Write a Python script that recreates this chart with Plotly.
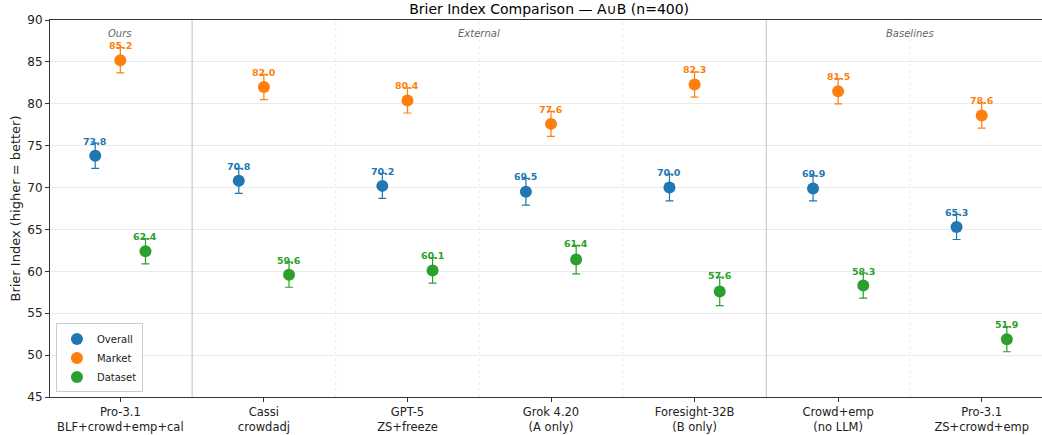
import plotly.graph_objects as go

# ===================== Data =========================
models = ["Pro-3.1<br>BLF+crowd+emp+cal", "Cassi<br>crowdadj", "GPT-5<br>ZS+freeze",
          "Grok 4.20<br>(A only)", "Foresight-32B<br>(B only)", "Crowd+emp<br>(no LLM)",
          "Pro-3.1<br>ZS+crowd+emp"]

overall = [73.8, 70.8, 70.2, 69.5, 70.0, 69.9, 65.3]
overall_err = [1.5, 1.5, 1.5, 1.6, 1.6, 1.5, 1.5]
market = [85.2, 82.0, 80.4, 77.6, 82.3, 81.5, 78.6]
market_err = [1.5, 1.5, 1.5, 1.5, 1.5, 1.5, 1.5]
dataset = [62.4, 59.6, 60.1, 61.4, 57.6, 58.3, 51.9]
dataset_err = [1.5, 1.5, 1.5, 1.7, 1.7, 1.5, 1.5]

groups = ["Ours", "External", "Baselines"]
group_centers = [0, 2.5, 5.5]

series = [
    ("Overall", overall, overall_err, "#1f77b4", -0.175),
    ("Market", market, market_err, "#ff7f0e", 0.0),
    ("Dataset", dataset, dataset_err, "#2ca02c", 0.175),
]

FONT = "DejaVu Sans"

# ===================== Figure =========================
fig = go.Figure()

for name, vals, errs, color, off in series:
    xs = [i + off for i in range(len(vals))]
    fig.add_trace(go.Scatter(
        x=xs, y=vals, mode="markers", name=name,
        marker=dict(color=color, size=12),
        error_y=dict(type="data", array=errs, color=color, thickness=1.2, width=4),
    ))
    for x, v, e in zip(xs, vals, errs):
        fig.add_annotation(
            x=x, y=v + e, text=f"<b>{v:.1f}</b>", showarrow=False,
            yanchor="middle", yshift=2,
            font=dict(family=FONT, size=9.5, color=color),
        )

# separators between groups
shapes = []
for b in [0.5, 4.5]:
    shapes.append(dict(type="line", xref="x", yref="paper", x0=b, x1=b, y0=0, y1=1,
                       line=dict(color="rgba(0,0,0,0.2)", width=1.2), layer="below"))
for b in [1.5, 2.5, 3.5, 5.5]:
    shapes.append(dict(type="line", xref="x", yref="paper", x0=b, x1=b, y0=0, y1=1,
                       line=dict(color="rgba(0,0,0,0.08)", width=1, dash="dot"), layer="below"))

for g, c in zip(groups, group_centers):
    fig.add_annotation(x=c, y=88.4, text=f"<i>{g}</i>", showarrow=False,
                       font=dict(family=FONT, size=10, color="#666666"))

fig.update_layout(
    width=1042, height=435,
    margin=dict(l=50, r=0, t=20, b=38, autoexpand=False),
    paper_bgcolor="white", plot_bgcolor="white",
    font=dict(family=FONT, size=12, color="#222222"),
    title=dict(text="Brier Index Comparison — A∪B (n=400)", x=0.527, xanchor="center",
               y=0.98, yanchor="middle", font=dict(size=14, color="#000000")),
    shapes=shapes,
    showlegend=True,
    legend=dict(x=0.006, y=0.012, xanchor="left", yanchor="bottom",
                bgcolor="rgba(255,255,255,0.8)", bordercolor="#cccccc", borderwidth=1,
                font=dict(size=10), itemwidth=30, tracegroupgap=0),
)

fig.update_xaxes(
    range=[-0.49, 6.42], tickmode="array", tickvals=list(range(len(models))), ticktext=models,
    showgrid=False, zeroline=False, showline=True, linecolor="#333333", linewidth=1,
    mirror=True, ticks="outside", ticklen=4, tickcolor="#333333",
    tickfont=dict(size=11.5), automargin=False,
)
fig.update_yaxes(
    range=[45, 90], dtick=5, title=dict(text="Brier Index (higher = better)", font=dict(size=13), standoff=3),
    showgrid=True, gridcolor="rgba(0,0,0,0.08)", zeroline=False,
    showline=True, linecolor="#333333", linewidth=1, mirror=True,
    ticks="outside", ticklen=4, tickcolor="#333333", tickfont=dict(size=12), automargin=False,
)

fig.write_html("out.html", config={"displayModeBar": False},
               post_script="document.body.style.margin='0';")
